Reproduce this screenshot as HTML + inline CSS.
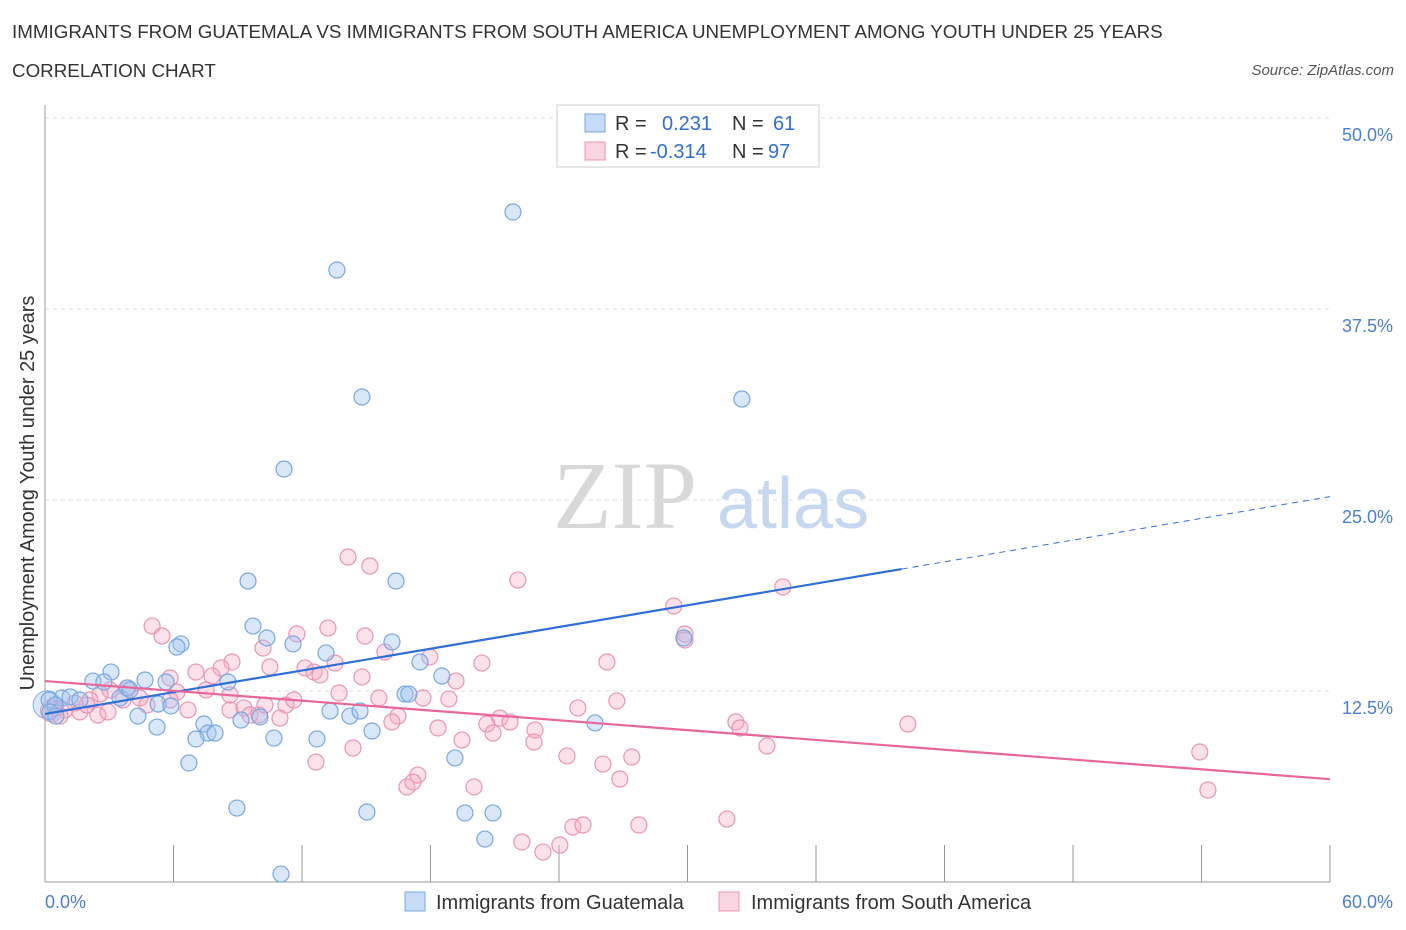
<!DOCTYPE html>
<html><head><meta charset="utf-8">
<style>
body{margin:0;background:#fff;font-family:"Liberation Sans",sans-serif;}
#wrap{position:relative;width:1406px;height:930px;overflow:hidden;}
.t{position:absolute;white-space:nowrap;}
</style></head>
<body>
<div id="wrap">
<div class="t" style="left:12px;top:21px;font-size:18.8px;color:#333;">IMMIGRANTS FROM GUATEMALA VS IMMIGRANTS FROM SOUTH AMERICA UNEMPLOYMENT AMONG YOUTH UNDER 25 YEARS</div>
<div class="t" style="left:12px;top:60px;font-size:18.8px;color:#333;">CORRELATION CHART</div>
<div class="t" style="right:12px;top:62px;font-size:15px;color:#555;font-style:italic;">Source: ZipAtlas.com</div>
<svg id="svg" width="1406" height="930" style="position:absolute;left:0;top:0;"></svg>
</div>
<script>
const blueX=[21.85,13.63,14.80,32.54,11.16,9.48,16.39,9.71,10.36,6.35,6.16,11.58,16.20,13.12,29.83,17.51,3.08,2.24,2.75,4.67,5.65,8.54,18.53,16.81,16.99,0.79,1.17,1.63,0.19,0.47,3.50,3.83,3.97,5.28,5.88,4.34,13.31,14.24,14.71,9.15,10.04,7.42,5.23,15.27,25.68,7.61,7.94,7.05,10.69,12.70,6.72,19.14,8.96,15.03,19.61,20.92,20.54,11.02,0.23,0.51];
const blueY=[43.85,40.05,31.74,31.61,27.03,19.70,19.70,16.75,15.97,15.58,15.38,15.58,15.71,14.99,15.97,14.40,13.74,13.15,13.09,13.22,13.09,13.09,13.48,12.30,12.30,12.04,12.11,11.91,11.91,11.58,12.04,12.70,12.57,11.65,11.52,10.86,11.19,10.86,11.19,10.60,10.80,10.34,10.14,9.88,10.41,9.75,9.75,9.36,9.42,9.36,7.79,8.12,4.84,4.58,4.52,4.52,2.81,0.52,11.13,10.86];
const pinkX=[14.15,15.17,22.08,34.45,29.36,5.00,5.46,11.76,13.21,14.94,29.88,29.88,26.24,20.40,17.97,15.87,13.54,10.18,8.73,8.22,7.05,7.80,5.84,12.14,12.56,12.84,10.50,19.19,14.80,13.73,15.59,17.65,18.86,26.70,24.88,3.87,3.03,2.57,2.10,1.40,0.93,0.47,1.63,4.43,4.76,6.16,7.52,6.68,8.64,9.29,9.57,9.99,11.25,10.97,16.48,16.20,18.35,20.63,21.24,21.71,22.88,19.47,20.92,22.83,32.26,32.45,40.29,33.71,24.37,26.05,27.40,12.65,14.38,17.41,16.90,17.18,20.03,26.84,53.92,54.30,22.27,23.25,24.04,24.65,25.12,27.73,31.84,3.64,2.47,5.84,8.64,11.62,10.27,2.94,0.70,1.96];
const pinkY=[21.27,20.68,19.76,19.31,18.06,16.75,16.10,16.23,16.62,16.10,16.23,15.84,14.40,14.33,14.73,15.05,14.33,15.31,14.40,14.01,13.74,13.48,13.35,14.01,13.74,13.55,14.07,13.15,13.42,12.37,12.04,12.04,11.98,11.85,11.39,12.70,12.57,12.30,11.91,11.71,11.26,11.39,11.13,12.04,11.58,12.43,12.57,11.26,11.26,11.39,10.93,10.93,11.58,10.73,10.86,10.47,10.08,10.34,10.73,10.47,9.95,9.29,9.75,9.16,10.47,10.08,10.34,8.90,8.25,7.72,8.18,7.85,8.77,7.00,6.22,6.54,6.22,6.74,8.51,6.02,2.62,1.96,2.42,3.60,3.73,3.73,4.12,11.91,10.93,11.91,12.24,11.91,11.58,11.13,10.86,11.58];
const blueTrend=[11.0,0.237];   // intercept, slope
const pinkTrend=[13.15,-0.107];
const yTicks=[12.5,25.0,37.5,50.0];
const yTickLabels=["12.5%","25.0%","37.5%","50.0%"];
const xTicks=[0,6,12,18,24,30,36,42,48,54,60];

const svg=document.getElementById('svg');
const NS='http://www.w3.org/2000/svg';
const X=v=>45+v*(1285/60);
const Y=v=>882-v*15.28;
function mk(tag,attrs){const e=document.createElementNS(NS,tag);for(const k in attrs)e.setAttribute(k,attrs[k]);svg.appendChild(e);return e;}

let w1=mk('text',{x:553,y:528,'font-size':96,fill:'#d8d8d8','font-family':'Liberation Serif, serif'});w1.textContent='ZIP';


let w2=mk('text',{x:717,y:528,'font-size':72,fill:'#c5d8ef','font-family':'Liberation Sans, sans-serif'});w2.textContent='atlas';



yTicks.forEach((v,i)=>{
  const g=mk('line',{x1:45,x2:1330,y1:Y(v),y2:Y(v),stroke:'#dcdcdc','stroke-dasharray':'4,4'});
  
  
  const t=mk('text',{x:1393,y:Y(v)+23,'text-anchor':'end','font-size':18,fill:'#4a7fd0'});t.textContent=yTickLabels[i];
  
  
});
let ay=mk('line',{x1:45,x2:45,y1:105,y2:882,stroke:'#999'});


let ax=mk('line',{x1:45,x2:1330,y1:882,y2:882,stroke:'#999'});


xTicks.forEach(v=>{
  const l=mk('line',{x1:X(v),x2:X(v),y1:845,y2:882,stroke:'#999'});
  
  
});
let xl=mk('text',{x:45,y:908,'font-size':18,fill:'#4a7fd0'});xl.textContent='0.0%';


let xr=mk('text',{x:1393,y:908,'text-anchor':'end','font-size':18,fill:'#4a7fd0'});xr.textContent='60.0%';


let yt=mk('text',{x:34,y:493,'text-anchor':'middle','font-size':19.9,fill:'#333',transform:'rotate(-90 34 493)'});yt.textContent='Unemployment Among Youth under 25 years';



let b1=mk('circle',{cx:X(0.1),cy:Y(11.6),r:14,fill:'rgba(150,190,240,0.35)',stroke:'#8ab2e6'});


let b2=mk('circle',{cx:X(0.3),cy:Y(11.2),r:11,fill:'rgba(240,160,190,0.3)',stroke:'#eb9ab6'});



pinkX.forEach((x,i)=>{
  const c=mk('circle',{cx:X(x),cy:Y(pinkY[i]),r:8,fill:'rgba(243,170,196,0.35)',stroke:'#eb94b3','stroke-width':1.2});
  
  
});
blueX.forEach((x,i)=>{
  const c=mk('circle',{cx:X(x),cy:Y(blueY[i]),r:8,fill:'rgba(160,196,240,0.4)',stroke:'#78a8e2','stroke-width':1.2});
  
  
});
let bl=mk('line',{x1:X(0),y1:Y(blueTrend[0]),x2:X(40),y2:Y(blueTrend[0]+blueTrend[1]*40),stroke:'#2f6fd6','stroke-width':2.2});


let bd=mk('line',{x1:X(40),y1:Y(blueTrend[0]+blueTrend[1]*40),x2:X(60),y2:Y(blueTrend[0]+blueTrend[1]*60),stroke:'#2f6fd6','stroke-width':1,'stroke-dasharray':'6,5'});


let pl=mk('line',{x1:X(0),y1:Y(pinkTrend[0]),x2:X(60),y2:Y(pinkTrend[0]+pinkTrend[1]*60),stroke:'#e8679a','stroke-width':2.2});



let lb=mk('rect',{x:557,y:105,width:262,height:62,fill:'#fff',stroke:'#ccc'});


let s1=mk('rect',{x:585,y:114,width:20,height:18,fill:'rgba(160,196,240,0.6)',stroke:'#78a8e2'});


let s2=mk('rect',{x:585,y:142,width:20,height:18,fill:'rgba(243,170,196,0.5)',stroke:'#eb94b3'});


function lt(x,y,txt,col,name){const t=mk('text',{x:x,y:y,'font-size':20,fill:col});t.textContent=txt;}
lt(615,130,'R =','#333','legend-r-label');lt(662,130,'0.231','#2f6fd6','legend-r-value-guatemala');
lt(732,130,'N =','#333','legend-n-label');lt(773,130,'61','#2f6fd6','legend-n-value-guatemala');
lt(615,158,'R =','#333','legend-r-label');lt(650,158,'-0.314','#2f6fd6','legend-r-value-south-america');
lt(732,158,'N =','#333','legend-n-label');lt(768,158,'97','#2f6fd6','legend-n-value-south-america');

let bs1=mk('rect',{x:405,y:892,width:20,height:19,fill:'rgba(160,196,240,0.6)',stroke:'#78a8e2'});


lt(436,909,'Immigrants from Guatemala','#333','legend-entry-guatemala');
let bs2=mk('rect',{x:719,y:892,width:20,height:19,fill:'rgba(243,170,196,0.5)',stroke:'#eb94b3'});


lt(751,909,'Immigrants from South America','#333','legend-entry-south-america');
</script>
</body></html>
